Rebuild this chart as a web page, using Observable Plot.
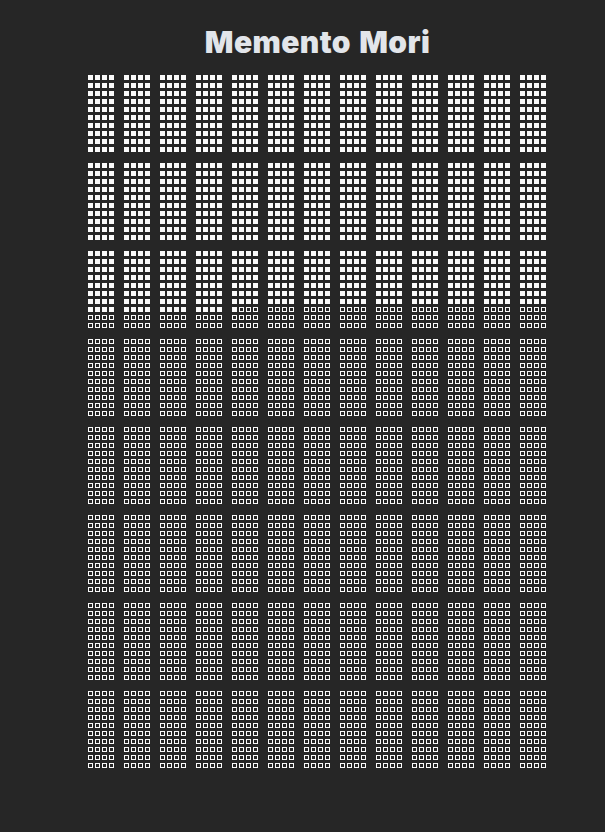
<!DOCTYPE html>
<html>
<head>
<meta charset="utf-8">
<script src="https://cdn.jsdelivr.net/npm/d3@7"></script>
<script src="https://cdn.jsdelivr.net/npm/@observablehq/plot@0.6"></script>
<style>
  html, body { margin: 0; padding: 0; background: #262626; }
  #wrap { position: relative; width: 605px; height: 832px; overflow: hidden; }
  #title { position: absolute; left: 30px; width: 575px; top: 27px; text-align: center;
    font-family: Inter, sans-serif; font-weight: 900; font-size: 30px; line-height: 30px;
    letter-spacing: 0.4px; word-spacing: 2px;
    color: #e2e5ea; margin: 0; }
  #chart { position: absolute; left: 0; top: 60px; }
</style>
</head>
<body>
<div id="wrap">
  <h1 id="title">Memento Mori</h1>
  <div id="chart"></div>
</div>
<script>
// Life in weeks: 80 years × 52 weeks, weeks already lived are filled
const totalYears = 80;
const weeksPerYear = 52;
const weeksLived = 1421; // 27 years + 17 weeks
const weeksPerBlock = 4;
const yearsPerBlock = 10;

const weeks = d3.range(totalYears * weeksPerYear).map(i => ({
  year: Math.floor(i / weeksPerYear),
  week: i % weeksPerYear,
  lived: i < weeksLived
}));

const lived = weeks.filter(d => d.lived);
const future = weeks.filter(d => !d.lived);

const enc = {
  fx: d => Math.floor(d.week / weeksPerBlock),
  fy: d => Math.floor(d.year / yearsPerBlock),
  x: d => d.week % weeksPerBlock,
  y: d => d.year % yearsPerBlock
};

const chart = Plot.plot({
  width: 605,
  height: 760,
  marginLeft: 87,
  marginRight: 58,
  marginTop: 13.5,
  marginBottom: 50.5,
  style: { background: "transparent" },
  fx: { axis: null, paddingInner: 8 / 36, paddingOuter: 0, round: false },
  fy: { axis: null, paddingInner: 8 / 88, paddingOuter: 0, round: false },
  x: { axis: null, domain: d3.range(weeksPerBlock), paddingInner: 2 / 7, paddingOuter: 1 / 7, round: false },
  y: { axis: null, domain: d3.range(yearsPerBlock), paddingInner: 3 / 8, paddingOuter: 1.5 / 8, round: false },
  marks: [
    Plot.cell(lived, { ...enc, fill: "#fafafa" }),
    Plot.cell(future, { ...enc, fill: "none", stroke: "#fafafa", strokeWidth: 1, inset: 0.5 })
  ]
});
document.getElementById("chart").appendChild(chart);
</script>
</body>
</html>
